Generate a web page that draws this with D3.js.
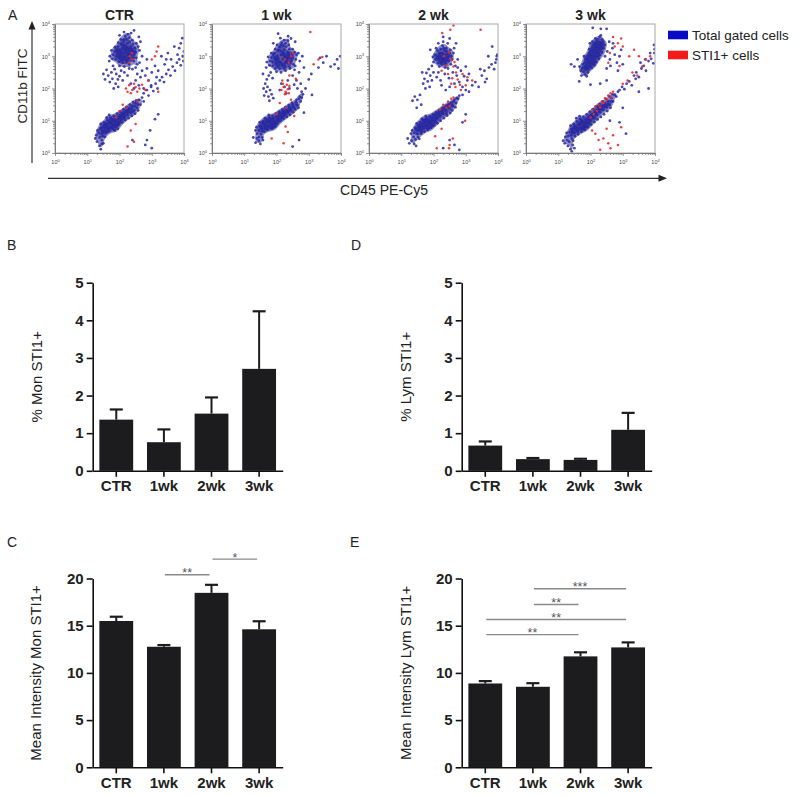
<!DOCTYPE html>
<html><head><meta charset="utf-8">
<script src="https://cdn.jsdelivr.net/npm/d3@7"></script>
<style>
body{margin:0;background:#fff;}
svg{display:block;font-family:"Liberation Sans",Arial,Helvetica,sans-serif;}
</style></head><body>
<svg id="chart" width="800" height="796"></svg>
<script>
// ---------- DATA ----------
const categories = ["CTR","1wk","2wk","3wk"];
const monPct = [1.36, 0.76, 1.52, 2.71];
const monPctErr = [0.27, 0.34, 0.43, 1.53];
const lymPct = [0.67, 0.31, 0.29, 1.09];
const lymPctErr = [0.11, 0.03, 0.03, 0.45];
const monMean = [15.5, 12.77, 18.48, 14.62];
const monMeanErr = [0.45, 0.18, 0.85, 0.85];
const lymMean = [8.88, 8.53, 11.75, 12.7];
const lymMeanErr = [0.25, 0.38, 0.43, 0.53];
const pctTicks = [0,1,2,3,4,5];
const meanTicks = [0,5,10,15,20];
const sigMonMean = [
  {a:"1wk", b:"2wk", level:20.4, label:"**"},
  {a:"2wk", b:"3wk", level:22.05, label:"*"}
];
const sigLymMean = [
  {a:"CTR", b:"2wk", level:14.05, label:"**"},
  {a:"CTR", b:"3wk", level:15.65, label:"**"},
  {a:"1wk", b:"2wk", level:17.25, label:"**"},
  {a:"1wk", b:"3wk", level:18.92, label:"***"}
];

const flowTitles = ["CTR","1 wk","2 wk","3 wk"];
const flowTicks = [1,10,100,1000,10000];
const legendLabels = ["Total gated cells","STI1+ cells"];
// flow events: flat [log10(CD45)*100, log10(CD11b)*100, ...]
const ctrTotal = [
195,310,200,320,205,300,210,325,215,310,220,318,225,305,230,322,200,295,208,290,218,296,228,292,235,300,190,300,185,315,195,330,205,338,215,335,225,340,235,330,240,315,245,305,238,288,222,282,210,280,198,283,188,290,180,305,192,322,212,345,222,352,232,345,242,338,248,325,250,312,186,328,178,292,200,270,215,268,230,275,244,285,252,295,204,352,218,362,230,358,240,350,252,340,258,330,175,318,170,300,196,342,226,368,214,375,236,372,206,310,216,322,226,312,198,305,232,310,220,330,
203,313,213,298,223,326,233,318,208,335,218,288,228,302,238,322,193,316,198,296,243,296,213,352,203,285,225,285,247,315,
245,380,200,365,260,360,262,318,168,285,255,275,270,300,265,345,180,270,250,265,
185,260,175,250,190,245,165,240,178,230,195,228,160,258,170,220,188,215,200,238,205,255,155,228,182,200,196,205,150,245,
215,250,225,240,240,260,255,245,265,235,250,225,235,215,270,255,280,240,290,225,260,210,245,200,275,200,285,262,230,262,298,210,210,225,300,250,315,235,262,280,285,290,310,270,
135,62,140,75,145,60,150,80,155,70,160,88,165,75,170,95,175,82,180,100,185,90,190,108,195,95,200,115,205,102,210,122,215,110,220,130,225,118,230,138,235,125,240,145,245,132,250,155,255,140,260,165,265,150,270,172,275,160,142,90,148,52,152,95,158,62,162,102,168,68,172,110,178,78,182,115,188,82,192,122,198,88,202,128,208,95,212,135,218,102,222,142,228,108,232,150,238,115,242,158,248,122,252,162,258,132,138,48,132,70,145,40,128,55,160,110,155,50,168,118,185,70,195,75,175,92,162,80,188,100,200,95,214,120,226,128,240,128,205,112,180,85,150,65,170,78,156,85,
147,68,157,78,167,92,177,104,187,96,197,108,207,118,183,72,163,66,173,100,193,86,203,105,217,126,227,135,237,138,153,88,143,78,247,145,257,150,213,112,
130,35,138,22,145,28,125,45,150,30,142,12,
275,185,285,195,290,178,298,205,305,192,312,215,318,200,325,225,332,235,338,220,345,245,352,258,358,240,365,268,372,255,378,280,385,290,390,272,396,300,400,315,398,285,380,305,360,290,340,275,320,255,330,300,350,310,370,330,390,340,395,356,385,325,345,290,
295,70,285,40,300,15,280,25,310,105,240,40,320,120
];
const ctrSti1 = [220,200,230,210,240,195,235,185,250,205,255,190,245,215,262,200,225,190,270,212,232,300,240,290,238,310,228,280,210,150,200,130,222,140,190,110,300,290,310,300,290,225,280,195,250,90,235,70,225,20,245,35,320,190,255,160,315,315,320,330];

const wk1Total = [
195,290,202,300,208,282,214,305,220,290,226,298,232,284,238,300,198,275,206,270,216,276,226,270,236,278,188,282,184,296,194,310,204,318,214,316,224,320,234,312,242,296,246,286,240,268,224,262,210,262,196,262,188,270,180,285,190,305,210,328,220,332,230,330,240,322,248,308,250,294,184,310,178,272,200,252,214,250,228,255,242,262,252,275,202,335,216,342,228,340,238,335,250,322,256,312,174,298,170,282,196,322,224,350,212,356,235,348,206,292,218,304,228,290,200,288,232,294,220,312,
203,295,213,282,223,308,233,302,208,318,218,270,228,280,238,310,193,298,198,280,243,280,213,335,203,268,225,268,247,300,
245,355,205,370,258,345,260,290,168,265,256,258,262,305,190,340,236,362,
182,250,176,240,170,228,165,215,172,205,180,195,168,190,160,200,175,175,185,182,162,178,178,162,190,170,158,245,188,232,
250,240,262,225,270,250,275,215,265,200,258,270,272,285,280,300,268,310,278,190,255,212,285,265,
215,215,225,205,235,225,240,200,210,195,230,185,
145,70,150,82,155,68,160,88,165,78,170,95,175,84,180,100,185,90,190,108,195,96,200,115,205,104,210,122,215,110,220,128,225,118,230,135,235,125,240,142,245,132,250,150,255,140,260,158,265,148,270,168,275,160,148,95,152,58,158,98,162,66,168,104,172,72,178,110,182,78,188,116,192,84,198,122,202,92,208,128,212,100,218,135,222,106,228,142,232,112,238,148,242,118,248,155,252,126,258,135,262,165,268,140,272,175,140,60,138,80,146,50,135,70,164,108,156,48,176,118,186,76,196,82,180,94,166,86,190,100,204,98,216,118,226,124,240,130,206,112,184,86,154,76,174,80,160,92,278,172,282,182,
153,76,163,84,173,98,183,106,193,92,203,110,213,120,188,78,168,74,178,102,198,88,208,104,222,124,232,130,242,136,158,94,148,84,252,144,262,150,218,112,
140,45,135,32,145,38,128,48,150,28,158,40,
335,295,345,280,355,300,368,268,380,275,392,262,398,300,388,290,330,265,
300,228,308,245,290,200,285,125,270,40,250,20,310,180
];
const wk1Sti1 = [215,195,222,205,228,190,232,212,220,215,235,198,226,182,240,208,218,225,238,185,245,300,238,280,250,310,226,290,210,155,230,140,200,120,245,165,305,375,330,290,342,298,315,275,255,115,235,65,222,30,185,45,240,240,260,230,228,82];

const wk2Total = [
210,300,218,310,224,292,230,305,236,296,242,308,216,288,228,284,240,286,206,290,212,318,222,322,234,318,246,298,248,285,226,275,214,278,238,275,250,310,204,305,220,300,232,290,208,325,228,332,240,325,252,320,256,300,200,282,218,268,236,265,258,290,244,340,262,310,215,340,230,345,254,275,198,298,264,325,226,310,212,294,
220,308,230,298,240,315,226,290,236,280,218,295,248,302,232,325,244,292,222,280,
230,360,250,355,270,340,190,320,275,290,268,270,
195,270,185,260,178,248,190,240,172,230,182,222,168,215,195,225,188,205,175,200,200,250,165,250,
210,235,222,225,235,245,248,232,260,250,272,240,285,255,295,238,305,225,280,220,265,215,250,205,238,195,225,210,290,205,310,245,300,268,275,265,245,262,215,250,
135,162,150,165,142,175,158,180,162,150,148,140,
140,62,145,75,150,60,155,80,160,70,165,90,170,76,175,96,180,84,185,102,190,92,195,110,200,98,205,118,210,106,215,125,220,114,225,132,230,122,235,140,240,130,245,148,250,138,255,156,260,145,265,165,270,155,148,92,152,50,158,96,162,60,168,102,172,66,178,108,182,72,188,114,192,78,198,120,202,86,208,126,212,92,218,132,222,100,228,140,232,108,238,146,242,116,248,152,252,124,258,132,262,160,268,142,272,170,138,50,134,70,144,42,130,60,164,106,156,44,176,115,186,78,196,84,184,94,166,82,194,100,206,96,216,116,226,122,240,122,204,110,182,88,154,72,174,84,160,86,276,168,280,178,
148,70,158,78,168,92,178,104,188,96,198,108,208,116,183,76,163,66,173,100,193,86,203,104,217,122,227,130,237,136,153,86,143,78,247,142,257,148,213,110,
132,38,125,30,140,28,120,45,146,22,
290,180,300,195,310,190,320,210,330,220,340,205,350,240,358,255,365,230,372,265,380,275,388,260,395,290,396,300,398,305,392,280,360,220,345,260,382,330,370,300,
250,40,265,25,280,10,230,15,300,120,290,95
];
const wk2Sti1 = [232,300,248,312,255,290,240,272,262,268,270,250,258,232,275,228,282,212,290,245,268,205,300,210,255,215,245,245,265,282,225,255,305,235,320,225,285,195,230,150,245,160,255,168,240,140,262,172,220,135,250,145,227,372,252,382,346,382,262,395,205,52,225,75,250,25,248,15,260,45,210,15,298,100];

const wk3Total = [
178,252,185,258,180,265,190,262,186,272,195,270,190,280,200,278,194,288,204,285,198,296,208,294,203,304,212,302,208,312,216,310,212,320,220,318,216,328,224,326,220,336,228,334,226,344,232,342,174,262,182,280,188,295,196,310,204,322,210,335,218,345,194,260,200,268,208,276,214,286,220,298,224,308,230,318,234,330,238,338,170,255,183,244,192,250,176,275,184,290,192,302,200,315,206,330,214,340,222,352,236,352,228,360,240,345,204,264,212,272,218,282,226,292,230,304,236,312,240,325,172,240,188,238,166,268,180,300,196,322,232,365,244,335,206,345,215,355,198,340,207,388,
196,282,206,290,214,300,222,312,228,324,210,318,200,304,190,290,218,330,232,335,186,265,224,300,212,280,204,298,236,325,
245,300,252,315,260,290,268,325,275,305,282,280,290,300,262,270,250,262,285,255,295,320,270,340,258,345,300,275,
150,268,140,275,160,290,232,385,
230,215,165,222,250,225,200,212,
130,52,135,65,140,55,145,72,150,62,155,80,160,70,165,88,170,78,175,96,180,86,185,104,190,94,195,112,200,102,205,120,210,110,215,128,220,118,225,136,230,126,235,144,240,134,245,152,250,142,255,160,260,150,265,170,270,160,275,180,138,85,142,45,148,90,152,52,158,98,162,58,168,106,172,66,178,112,182,72,188,120,192,80,198,128,202,88,208,136,212,96,218,144,222,104,228,152,232,112,238,160,242,120,248,168,252,130,258,176,262,140,268,182,128,40,126,62,134,35,122,50,156,108,146,38,166,114,176,74,186,82,172,90,156,74,184,96,196,92,206,114,216,120,230,140,194,104,178,80,144,62,164,76,150,78,280,175,285,190,240,148,255,150,220,132,200,116,
143,68,153,76,163,90,173,102,183,92,193,106,203,114,180,78,160,66,170,96,190,84,200,100,215,124,225,130,235,136,150,84,140,74,245,144,255,152,212,108,225,145,265,160,
120,30,130,22,138,12,145,25,115,38,142,5,150,15,
290,195,298,205,305,198,312,215,320,222,328,210,335,240,342,250,350,235,358,262,365,270,372,255,380,285,388,292,395,278,398,310,399,322,385,310,370,290,355,280,340,230,397,335,
290,95,300,140,310,60,260,100,250,385,350,190,380,200
];
const wk3Sti1 = [205,135,215,145,225,150,235,160,245,170,255,178,262,185,250,165,240,155,230,142,220,130,265,172,270,190,210,120,200,110,300,215,315,225,330,250,345,240,360,268,372,290,385,300,350,300,335,320,320,300,300,330,260,310,275,330,285,340,295,355,255,280,290,270,270,360,205,70,225,40,240,45,255,30,262,15,270,55,285,25,230,10,295,80,215,60,250,75];

// ---------- DRAW ----------
const svg = d3.select("#chart");
const INK = "#1c1c1e";

function toEvents(flat){
  const out = [];
  for (let i = 0; i + 1 < flat.length; i += 2) out.push([Math.pow(10, flat[i]/100), Math.pow(10, flat[i+1]/100)]);
  return out;
}

// Panel letters
[["A",8,20],["B",7,250],["D",351,250],["C",7,547],["E",350,547]].forEach(([t,x,y])=>{
  svg.append("text").attr("x",x).attr("y",y).attr("font-size",14).attr("fill","#222").text(t);
});

// ---- Panel A: flow plots ----
const flowSets = [
  {total: ctrTotal, sti1: ctrSti1},
  {total: wk1Total, sti1: wk1Sti1},
  {total: wk2Total, sti1: wk2Sti1},
  {total: wk3Total, sti1: wk3Sti1}
];
const flowLeft0 = 55, flowStep = 157, flowSize = 129, flowTop = 24;
const minorTicks = [];
for (let d = 0; d < 4; d++) for (let m = 2; m < 10; m++) minorTicks.push(m*Math.pow(10,d));
const defs = svg.append("defs");

flowSets.forEach((s,i)=>{
  const left = flowLeft0 + i*flowStep;
  const bottom = flowTop + flowSize;
  const x = d3.scaleLog().domain([1,1e4]).range([left, left+flowSize]);
  const y = d3.scaleLog().domain([1,1e4]).range([bottom, flowTop]);
  const g = svg.append("g");
  defs.append("clipPath").attr("id","clip"+i).append("rect")
    .attr("x",left).attr("y",flowTop).attr("width",flowSize).attr("height",flowSize);

  const events = toEvents(s.total);
  // density cores of the gated populations
  const dens = d3.contourDensity().x(d=>x(d[0])).y(d=>y(d[1]))
    .size([800,200]).cellSize(1).bandwidth(2.6);
  const cf = dens.contours(events);
  const path = d3.geoPath();
  const gd = g.append("g").attr("clip-path",`url(#clip${i})`);
  [0.3,0.47,0.68].forEach(f=>{
    gd.append("path").attr("d",path(cf(cf.max*f))).attr("fill","#1c1c8a").attr("fill-opacity",0.5);
  });

  // dots
  const gp = g.append("g").attr("clip-path",`url(#clip${i})`);
  gp.append("g").selectAll("circle").data(events).join("circle")
    .attr("cx",d=>x(d[0])).attr("cy",d=>y(d[1])).attr("r",1.4).attr("fill","#2828a6").attr("fill-opacity",0.85);
  gp.append("g").selectAll("circle").data(toEvents(s.sti1)).join("circle")
    .attr("cx",d=>x(d[0])).attr("cy",d=>y(d[1])).attr("r",1.25).attr("fill","#ec2b2b").attr("fill-opacity",0.9);

  g.append("rect").attr("x",left).attr("y",flowTop).attr("width",flowSize).attr("height",flowSize)
    .attr("fill","none").attr("stroke","#a8a8a8").attr("stroke-width",1);

  // axes
  const styleAx = sel => { sel.selectAll("path,line").attr("stroke","#777").attr("stroke-width",0.8); };
  g.append("g").attr("transform",`translate(0,${bottom})`)
    .call(d3.axisBottom(x).tickValues(minorTicks).tickSize(2).tickFormat("").tickSizeOuter(0)).call(styleAx);
  g.append("g").attr("transform",`translate(${left},0)`)
    .call(d3.axisLeft(y).tickValues(minorTicks).tickSize(2).tickFormat("").tickSizeOuter(0)).call(styleAx);
  const gxb = g.append("g").attr("transform",`translate(0,${bottom})`)
    .call(d3.axisBottom(x).tickValues(flowTicks).tickSize(3).tickPadding(4).tickFormat(()=>"10").tickSizeOuter(0)).call(styleAx);
  const gyb = g.append("g").attr("transform",`translate(${left},0)`)
    .call(d3.axisLeft(y).tickValues(flowTicks).tickSize(3).tickPadding(2).tickFormat(()=>"10").tickSizeOuter(0)).call(styleAx);
  [gxb, gyb].forEach(ax=>{
    ax.selectAll(".tick text").attr("font-size",5.5).attr("fill","#444").attr("font-family","Liberation Sans, Arial, sans-serif")
      .append("tspan").attr("dy","-0.55em").attr("font-size",4).text(d=>Math.round(Math.log10(d)));
  });

  svg.append("text").attr("x",left+flowSize/2).attr("y",20).attr("text-anchor","middle")
    .attr("font-size",14).attr("font-weight","bold").attr("fill","#222").text(flowTitles[i]);
});

// big arrows
svg.append("line").attr("x1",32).attr("y1",163).attr("x2",32).attr("y2",28).attr("stroke","#333").attr("stroke-width",1.2);
svg.append("path").attr("d","M32,21 L28.5,29.5 L35.5,29.5 Z").attr("fill","#222");
svg.append("line").attr("x1",48).attr("y1",178.3).attr("x2",660).attr("y2",178.3).attr("stroke","#333").attr("stroke-width",1.2);
svg.append("path").attr("d","M667,178.3 L658.5,174.8 L658.5,181.8 Z").attr("fill","#222");
svg.append("text").attr("transform","translate(22.5,86) rotate(-90)").attr("text-anchor","middle")
  .attr("dominant-baseline","central").attr("font-size",13.5).attr("fill","#222").text("CD11b FITC");
svg.append("text").attr("x",384).attr("y",195).attr("text-anchor","middle").attr("font-size",14).attr("fill","#222").text("CD45 PE-Cy5");

// legend
const legColors = ["#0a0ac4","#f21a1a"];
legendLabels.forEach((t,i)=>{
  svg.append("rect").attr("x",668).attr("y",30.7+i*20).attr("width",20).attr("height",8.6).attr("fill",legColors[i]);
  svg.append("text").attr("x",692).attr("y",39.6+i*20).attr("font-size",13.5).attr("fill","#222").text(t);
});

// ---- Bar panels ----
function drawBars(cfg){
  const {axisX, top, bottom, maxY, tickVals, values, errs, label, labelX, sig} = cfg;
  const x = d3.scaleBand().domain(categories).range([axisX, axisX+190]).paddingInner(0.29).paddingOuter(0.14);
  const y = d3.scaleLinear().domain([0,maxY]).range([bottom, top]);
  const g = svg.append("g");
  const data = categories.map((c,i)=>({c, v:values[i], e:errs[i]}));
  const cx = d => x(d.c) + x.bandwidth()/2;

  g.selectAll(".eb").data(data).join("line").attr("class","eb")
    .attr("x1",cx).attr("x2",cx).attr("y1",d=>y(d.v)).attr("y2",d=>y(d.v+d.e))
    .attr("stroke",INK).attr("stroke-width",2);
  g.selectAll(".cap").data(data).join("line").attr("class","cap")
    .attr("x1",d=>cx(d)-6.5).attr("x2",d=>cx(d)+6.5).attr("y1",d=>y(d.v+d.e)).attr("y2",d=>y(d.v+d.e))
    .attr("stroke",INK).attr("stroke-width",2.2);
  g.selectAll(".bar").data(data).join("rect").attr("class","bar")
    .attr("x",d=>x(d.c)).attr("y",d=>y(d.v)).attr("width",x.bandwidth()).attr("height",d=>bottom-y(d.v))
    .attr("fill",INK);

  const gy = g.append("g").attr("transform",`translate(${axisX},0)`)
    .call(d3.axisLeft(y).tickValues(tickVals).tickFormat(d3.format("d")).tickSize(6).tickPadding(3).tickSizeOuter(0));
  const gx = g.append("g").attr("transform",`translate(0,${bottom})`)
    .call(d3.axisBottom(x).tickSize(6).tickPadding(4).tickSizeOuter(0));
  [gy,gx].forEach(ax=>{
    ax.selectAll("path,line").attr("stroke","#111").attr("stroke-width",1.6);
    ax.selectAll("text").attr("font-size",15).attr("font-weight","bold").attr("fill","#222")
      .attr("font-family","Liberation Sans, Arial, sans-serif");
  });

  g.append("text").attr("transform",`translate(${labelX},${(top+bottom)/2}) rotate(-90)`)
    .attr("text-anchor","middle").attr("dominant-baseline","central")
    .attr("font-size",15).attr("fill","#222").text(label);

  if (sig) {
    const bc = c => x(c) + x.bandwidth()/2;
    sig.forEach(s=>{
      const x1 = bc(s.a) + 1, x2 = bc(s.b) - 2, yy = y(s.level);
      g.append("line").attr("x1",x1).attr("x2",x2).attr("y1",yy).attr("y2",yy)
        .attr("stroke","#8a8a8a").attr("stroke-width",1.4);
      g.append("text").attr("x",(x1+x2)/2).attr("y",yy+2.5).attr("text-anchor","middle")
        .attr("font-size",12.5).attr("fill","#555").text(s.label);
    });
  }
}

drawBars({axisX:92.7, top:282.7, bottom:470.8, maxY:5, tickVals:pctTicks, values:monPct, errs:monPctErr, label:"% Mon STI1+", labelX:36});
drawBars({axisX:461.7, top:282.7, bottom:470.8, maxY:5, tickVals:pctTicks, values:lymPct, errs:lymPctErr, label:"% Lym STI1+", labelX:405});
drawBars({axisX:92.7, top:578.5, bottom:767.3, maxY:20, tickVals:meanTicks, values:monMean, errs:monMeanErr, label:"Mean Intensity Mon STI1+", labelX:35, sig:sigMonMean});
drawBars({axisX:461.7, top:578.5, bottom:767.3, maxY:20, tickVals:meanTicks, values:lymMean, errs:lymMeanErr, label:"Mean Intensity Lym STI1+", labelX:405, sig:sigLymMean});
</script>
</body></html>
